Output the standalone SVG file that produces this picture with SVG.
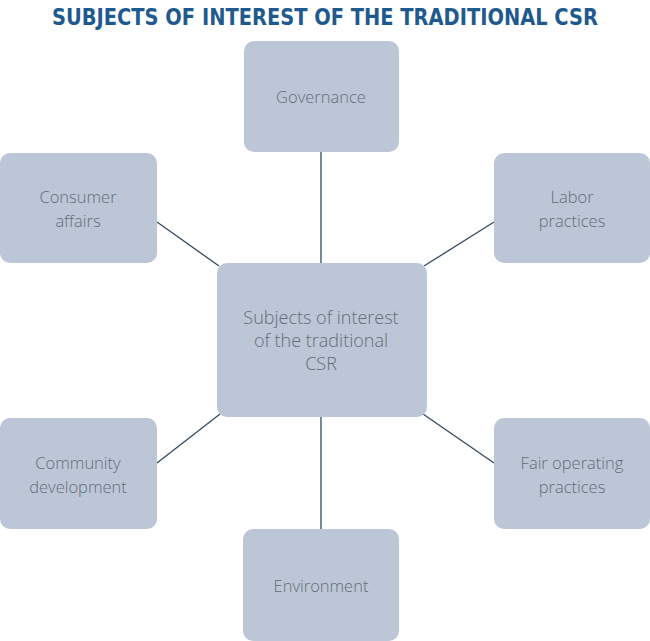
<svg xmlns="http://www.w3.org/2000/svg" width="650" height="641" viewBox="0 0 650 641">
<style>
.box{fill:#bcc6d6;}
.lbl{font-family:"Open Sans","DejaVu Sans",sans-serif;font-weight:300;font-size:16.5px;fill:#646d7a;text-anchor:middle;}
.big{font-size:18px;}
.con{stroke:#34495e;stroke-width:1.3;fill:none;}
.title{font-family:"DejaVu Sans Condensed","DejaVu Sans",sans-serif;font-weight:bold;font-size:22.5px;fill:#1f5a8e;text-anchor:middle;}
</style>
<rect width="650" height="641" fill="#ffffff"/>
<text class="title" x="325" y="25" textLength="546" lengthAdjust="spacingAndGlyphs">SUBJECTS OF INTEREST OF THE TRADITIONAL CSR</text>
<g id="connectors">
<line class="con" x1="321" y1="152" x2="321" y2="263"/>
<line class="con" x1="321" y1="417" x2="321" y2="529"/>
<line class="con" x1="157" y1="222" x2="219" y2="266"/>
<line class="con" x1="494" y1="222" x2="424" y2="266"/>
<line class="con" x1="157" y1="463" x2="220" y2="414"/>
<line class="con" x1="494" y1="463" x2="423" y2="414"/>
</g>
<g id="center">
<rect class="box" x="217" y="263" width="210" height="154" rx="10"/>
<text class="lbl big" x="321" y="324">Subjects of interest</text>
<text class="lbl big" x="321" y="347">of the traditional</text>
<text class="lbl big" x="321" y="370">CSR</text>
</g>
<g id="governance">
<rect class="box" x="244" y="41" width="155" height="111" rx="10"/>
<text class="lbl" x="321" y="103">Governance</text>
</g>
<g id="consumer">
<rect class="box" x="0" y="153" width="157" height="110" rx="10"/>
<text class="lbl" x="78" y="203">Consumer</text>
<text class="lbl" x="78" y="227">affairs</text>
</g>
<g id="labor">
<rect class="box" x="494" y="153" width="156" height="110" rx="10"/>
<text class="lbl" x="572" y="203">Labor</text>
<text class="lbl" x="572" y="227">practices</text>
</g>
<g id="community">
<rect class="box" x="0" y="418" width="157" height="111" rx="10"/>
<text class="lbl" x="78" y="469">Community</text>
<text class="lbl" x="78" y="493">development</text>
</g>
<g id="fair">
<rect class="box" x="494" y="418" width="156" height="111" rx="10"/>
<text class="lbl" x="572" y="469">Fair operating</text>
<text class="lbl" x="572" y="493">practices</text>
</g>
<g id="environment">
<rect class="box" x="243" y="529" width="156" height="112" rx="10"/>
<text class="lbl" x="321" y="592">Environment</text>
</g>
</svg>
